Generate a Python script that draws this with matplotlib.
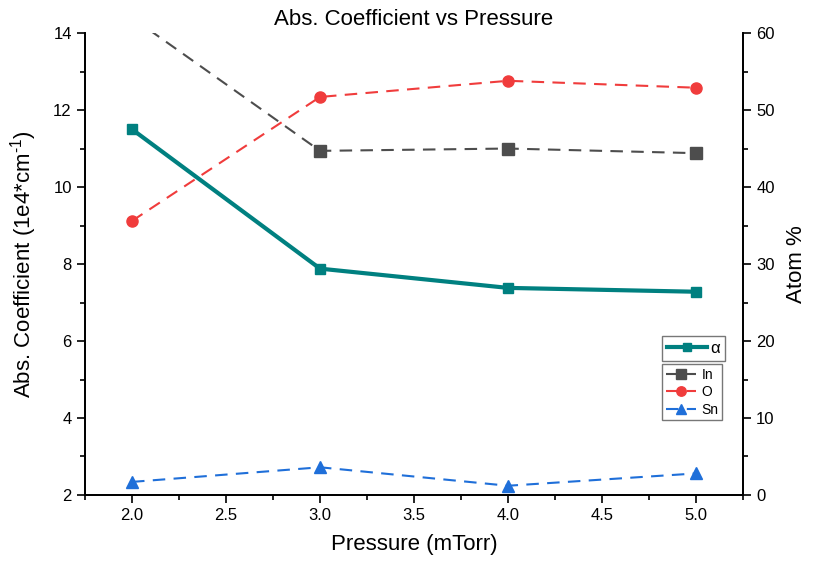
import matplotlib
matplotlib.use("Agg")
import matplotlib.pyplot as plt
from matplotlib.ticker import MultipleLocator

plt.rcParams['font.family'] = ['Liberation Sans', 'DejaVu Sans']
plt.rcParams['mathtext.fontset'] = 'custom'
plt.rcParams['mathtext.rm'] = 'Liberation Sans'

# 数据
pressure = [2.0, 3.0, 4.0, 5.0]
alpha = [11.5, 7.88, 7.38, 7.28]
atom_in = [62.0, 44.7, 45.0, 44.4]
atom_o = [35.6, 51.7, 53.8, 52.9]
atom_sn = [1.7, 3.6, 1.2, 2.8]

fig = plt.figure(figsize=(8.23, 5.70), dpi=100)
ax = fig.add_axes([0.1033, 0.1316, 0.7995, 0.8104])
ax2 = ax.twinx()

# 吸收系数（左轴）
l_a, = ax.plot(pressure, alpha, color='#008080', lw=3, marker='s', ms=7,
               label='α', zorder=5)

# 原子百分比（右轴）
l_in, = ax2.plot(pressure, atom_in, color='#4d4d4d', lw=1.5, ls=(0, (6, 4)),
                 marker='s', ms=8, label='In')
l_o, = ax2.plot(pressure, atom_o, color='#f03c3c', lw=1.5, ls=(0, (6, 4)),
                marker='o', ms=8, label='O')
l_sn, = ax2.plot(pressure, atom_sn, color='#1f6fd9', lw=1.5, ls=(0, (6, 4)),
                 marker='^', ms=8, label='Sn')
ax.set_zorder(ax2.get_zorder() + 1)
ax.patch.set_visible(False)

ax.set_xlim(1.75, 5.25)
ax.set_ylim(2, 14)
ax2.set_ylim(0, 60)
ax.xaxis.set_major_locator(MultipleLocator(0.5))
ax.xaxis.set_minor_locator(MultipleLocator(0.25))
ax.yaxis.set_major_locator(MultipleLocator(2))
ax.yaxis.set_minor_locator(MultipleLocator(1))
ax2.yaxis.set_major_locator(MultipleLocator(10))
ax2.yaxis.set_minor_locator(MultipleLocator(5))
ax.xaxis.set_major_formatter(plt.FormatStrFormatter('%.1f'))

for a in (ax, ax2):
    a.spines['top'].set_visible(False)
    for s in a.spines.values():
        s.set_linewidth(1.3)
    a.tick_params(which='major', direction='out', length=6, width=1.2, labelsize=12)
    a.tick_params(which='minor', direction='out', length=3.5, width=1.2)
ax.tick_params(axis='x', which='both', top=False)

ax.set_xlabel('Pressure (mTorr)', fontsize=16, labelpad=8)
ax.set_ylabel('Abs. Coefficient (1e4*cm$^{\\text{-1}}$)', fontsize=16, labelpad=10)
ax2.set_ylabel('Atom %', fontsize=16, labelpad=8)
ax.set_title('Abs. Coefficient vs Pressure', fontsize=16, pad=6)

# 两个图例框
leg1 = ax.legend(handles=[l_a], loc='upper left', bbox_to_anchor=(0.877, 0.344),
                 fontsize=12, frameon=True, fancybox=False, edgecolor='#555555',
                 handlelength=2.4, borderpad=0.3, handletextpad=0.2,
                 markerscale=0.9, borderaxespad=0)
leg1.get_frame().set_linewidth(1.0)
ax.add_artist(leg1)
leg2 = ax.legend(handles=[l_in, l_o, l_sn], loc='upper left',
                 bbox_to_anchor=(0.877, 0.283), fontsize=10, frameon=True,
                 fancybox=False, edgecolor='#555555', handlelength=2.2,
                 borderpad=0.25, handletextpad=0.4, labelspacing=0.25,
                 markerscale=0.85, borderaxespad=0)
leg2.get_frame().set_linewidth(1.0)

fig.savefig('out.png', dpi=100)
